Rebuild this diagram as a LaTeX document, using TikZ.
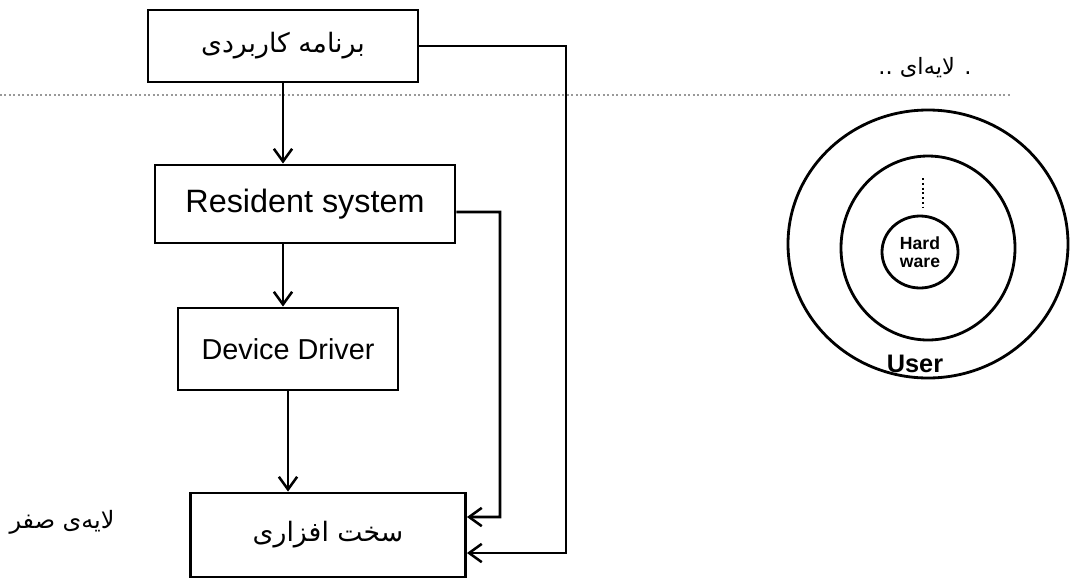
\documentclass[tikz,border=0pt]{standalone}
\usepackage{fontspec}
\setmainfont{Liberation Sans}
\newfontfamily\persian[Script=Arabic]{DejaVu Sans}
\TeXXeTstate=1
\usetikzlibrary{arrows.meta}
\tikzset{
  box/.style={draw, line width=2pt, inner sep=0pt},
  arr/.style={line width=1.8pt, -{Straight Barb[length=9pt,width=13pt,line width=1.8pt]}},
  ring/.style={line width=2pt}
}
\begin{document}
\begin{tikzpicture}[x=0.025cm, y=-0.025cm]
      \useasboundingbox (0,0) rectangle (1073,581);
      % layer boxes
      \node[box, minimum width=6.75cm, minimum height=1.8cm] (app) at (283,46)
        {\persian\fontsize{19}{22}\selectfont\beginR برنامه کاربردی\endR};
      \node[box, minimum width=7.5cm, minimum height=1.95cm] (resident) at (305,204)
        {\fontsize{23}{27}\selectfont Resident system};
      \node[box, minimum width=5.5cm, minimum height=2.05cm] (driver) at (288,349)
        {\fontsize{20.5}{24}\selectfont Device Driver};
      \node[box, minimum width=6.875cm, minimum height=2.1cm] (hw) at (328,535)
        {\persian\fontsize{19}{22}\selectfont\beginR سخت افزاری\endR};
      \node (zero) at (62,522) {\persian\fontsize{17}{20}\selectfont\beginR لایه‌ی صفر\endR};
      % dotted separator
      \draw[black!40, line width=1.2pt, dotted] (0,95) -- (1010,95);
      % arrows down the stack
      \draw[arr] (app.south) -- (app.south |- resident.north);
      \draw[arr] ([xshift=-0.55cm]resident.south) -- ([xshift=-0.55cm]resident.south |- driver.north);
      \draw[arr] (driver.south) -- (driver.south |- hw.north);
      % bypass lines to the hardware
      \draw[arr] (app.east) -- (566,46) |- ([yshift=-0.45cm]hw.east);
      \draw[arr] ([yshift=-0.2cm]resident.east) -- (500,212) |- ([yshift=0.45cm]hw.east);
      % rings
      \node (rings) at (925,68) {\persian\fontsize{16}{19}\selectfont\beginR . لایه‌ای ..\endR};
      \draw[ring] (928,244) ellipse [x radius=140, y radius=134];
      \draw[ring] (928,248) ellipse [x radius=87, y radius=92];
      \draw[ring] (920,252) ellipse [x radius=38, y radius=36];
      \draw[line width=1.4pt, dotted] (923,178) -- (923,207);
      \node[align=center, font=\fontsize{12.5}{13}\selectfont\bfseries] (hwlabel) at (920,252) {Hard\\ware};
      \node[font=\fontsize{18}{20}\selectfont\bfseries] (user) at (915,364) {User};
\end{tikzpicture}
\end{document}
